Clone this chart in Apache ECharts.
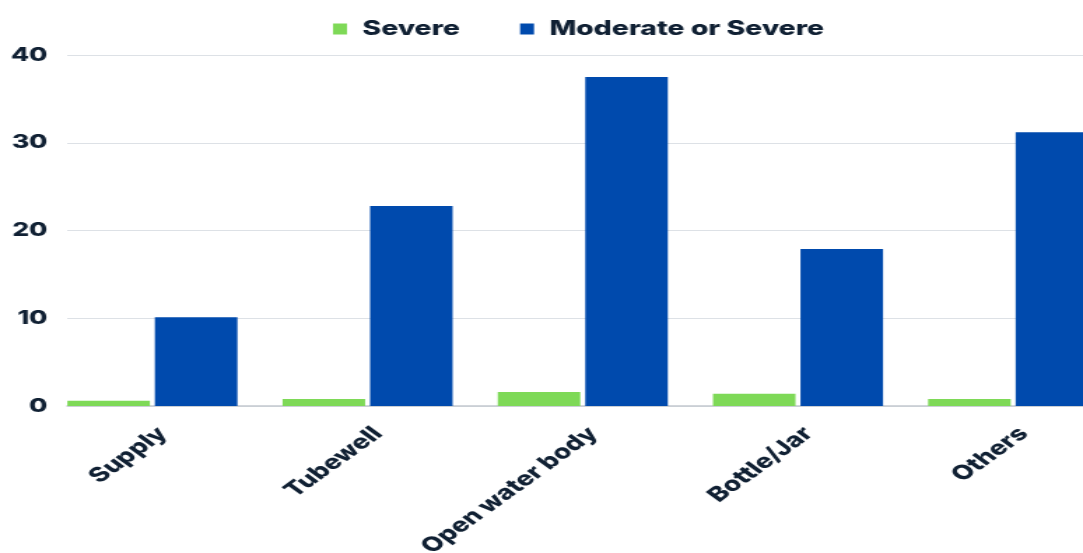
<!DOCTYPE html>
<html>
<head>
<meta charset="utf-8">
<script src="https://cdn.jsdelivr.net/npm/echarts@6/dist/echarts.min.js"></script>
<style>
  html, body { margin: 0; padding: 0; background: #ffffff; overflow: hidden; width: 1083px; height: 553px; }
  #chart { width: 820px; height: 553px; transform: scaleX(1.3992); transform-origin: 0 0; }
</style>
</head>
<body>
<div id="chart"></div>
<script>
const categories = ['Supply', 'Tubewell', 'Open water body', 'Bottle/Jar', 'Others'];
const severe = [0.6, 0.8, 1.6, 1.4, 0.8];
const moderateOrSevere = [10.1, 22.8, 37.5, 17.9, 31.2];
const seriesNames = ['Severe', 'Moderate or Severe'];
const yTicks = { min: 0, max: 40, interval: 10 };

const textColor = '#102033';
const fontFamily = 'Inter, "Open Sans", sans-serif';

const chart = echarts.init(document.getElementById('chart'));
chart.setOption({
  animation: false,
  legend: {
    left: 233,
    top: 12,
    icon: 'rect',
    itemWidth: 10,
    itemHeight: 11,
    itemGap: 43,
    data: seriesNames,
    textStyle: { color: textColor, fontSize: 20.3, fontWeight: 800, fontFamily: fontFamily, padding: [0, 0, 0, 6], lineHeight: 24 }
  },
  grid: [
    { left: 32, width: 769, top: 55, bottom: 147, outerBoundsMode: 'none', containLabel: false },
    { left: 48, width: 740, top: 55, bottom: 147, outerBoundsMode: 'none', containLabel: false }
  ],
  xAxis: [
    {
      type: 'category', gridIndex: 0, data: categories,
      axisLine: { show: false }, axisTick: { show: false },
      axisLabel: { rotate: 45, margin: 17, verticalAlign: 'top', lineHeight: 21, color: textColor, fontSize: 20, fontWeight: 800, fontFamily: fontFamily, interval: 0 }
    },
    {
      type: 'value', gridIndex: 1, min: 0, max: 1,
      axisLine: { show: true, lineStyle: { color: '#c3c9cf', width: 1.5 } },
      axisTick: { show: false }, axisLabel: { show: false }, splitLine: { show: false }
    }
  ],
  yAxis: [
    {
      type: 'value', gridIndex: 0, min: yTicks.min, max: yTicks.max, interval: yTicks.interval,
      axisLabel: { show: false }, splitLine: { show: false }, axisLine: { show: false }, axisTick: { show: false }
    },
    {
      type: 'value', gridIndex: 1, min: yTicks.min, max: yTicks.max, interval: yTicks.interval,
      axisLine: { show: false }, axisTick: { show: false },
      axisLabel: { margin: 14, color: textColor, fontSize: 19, fontWeight: 800, fontFamily: fontFamily },
      splitLine: { lineStyle: { color: '#dde1e6', width: 1 } }
    }
  ],
  series: [
    {
      name: seriesNames[0], type: 'bar', xAxisIndex: 0, yAxisIndex: 0,
      data: severe, barWidth: 59, barGap: '6%',
      itemStyle: { color: '#7ed957' }
    },
    {
      name: seriesNames[1], type: 'bar', xAxisIndex: 0, yAxisIndex: 0,
      data: moderateOrSevere, barWidth: 59, barGap: '6%',
      itemStyle: { color: '#004aad' }
    }
  ]
});
</script>
</body>
</html>
